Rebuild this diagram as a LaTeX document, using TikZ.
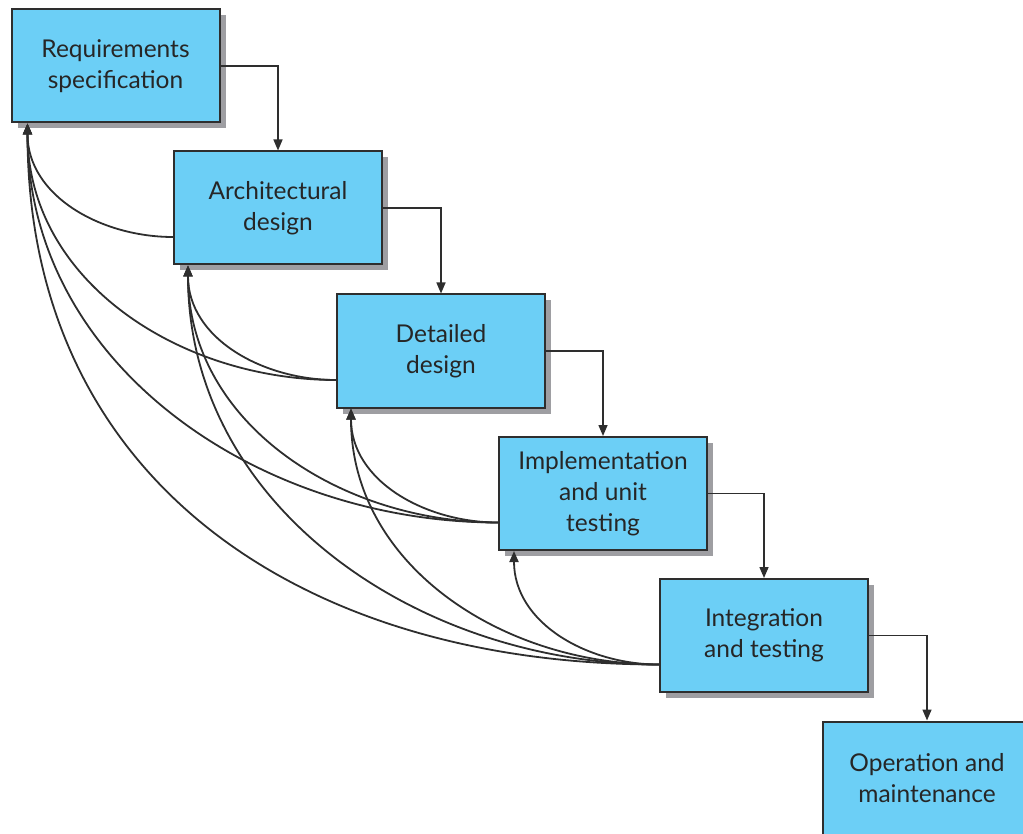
\documentclass[tikz,border=0pt]{standalone}
\usepackage{fontspec}
\setmainfont{Lato}
\usetikzlibrary{arrows.meta,calc,shadows}
\definecolor{boxfill}{HTML}{6CCFF6}
\definecolor{boxline}{HTML}{2E2E2E}
\definecolor{txt}{HTML}{262626}
\definecolor{shade}{HTML}{9E9EA2}
\begin{document}
\begin{tikzpicture}[x=1pt,y=-1pt,
  phase/.style={draw=boxline,line width=2pt,fill=boxfill,text=txt,
    minimum width=208pt,minimum height=113pt,align=center,inner sep=0pt,
    font=\fontsize{24.5}{31}\selectfont,
    general shadow={fill=shade,shadow xshift=6pt,shadow yshift=-6pt}},
  fwd/.style={draw=boxline,line width=1.5pt,-{Triangle[length=11pt,width=9pt]}},
  back/.style={draw=boxline,line width=1.8pt,-{Triangle[length=11pt,width=9pt]},out=180,in=-90}
]
\useasboundingbox (0,0) rectangle (1023,834);
\begin{scope}
\clip (0,0) rectangle (1023,834);
\node[phase] (b1) at (115.5,66) {Requirements\\specification};
\node[phase] (b2) at (278,208) {Architectural\\design};
\node[phase] (b3) at (441,351) {Detailed\\design};
\node[phase] (b4) at (603,493.5) {Implementation\\and unit\\testing};
\node[phase] (b5) at (764,635.5) {Integration\\and testing};
\node[phase] (b6) at (927,778) {Operation and\\maintenance};

% forward arrows
\draw[fwd] (b1.east) -| (b2.north);
\draw[fwd] (b2.east) -| (b3.north);
\draw[fwd] (b3.east) -| (b4.north);
\draw[fwd] (b4.east) -| (b5.north);
\draw[fwd] (b5.east) -| (b6.north);

% feedback points
\coordinate (s2) at ($(b2.west)+(0,29)$);
\coordinate (s3) at ($(b3.west)+(0,29)$);
\coordinate (s4) at ($(b4.west)+(0,29)$);
\coordinate (s5) at ($(b5.west)+(0,29)$);
\coordinate (t1) at ($(b1.south west)+(17,0)$);
\coordinate (t2) at ($(b2.south west)+(15,0)$);
\coordinate (t3) at ($(b3.south west)+(15,0)$);
\coordinate (t4) at ($(b4.south west)+(16,0)$);

\draw[back] (s2) to (t1);
\draw[back] (s3) to (t1);
\draw[back] (s4) to (t1);
\draw[back,looseness=1.1] (s5) to (t1);
\draw[back] (s3) to (t2);
\draw[back] (s4) to (t2);
\draw[back] (s5) to (t2);
\draw[back] (s4) to (t3);
\draw[back] (s5) to (t3);
\draw[back] (s5) to (t4);
\end{scope}
\end{tikzpicture}
\end{document}
